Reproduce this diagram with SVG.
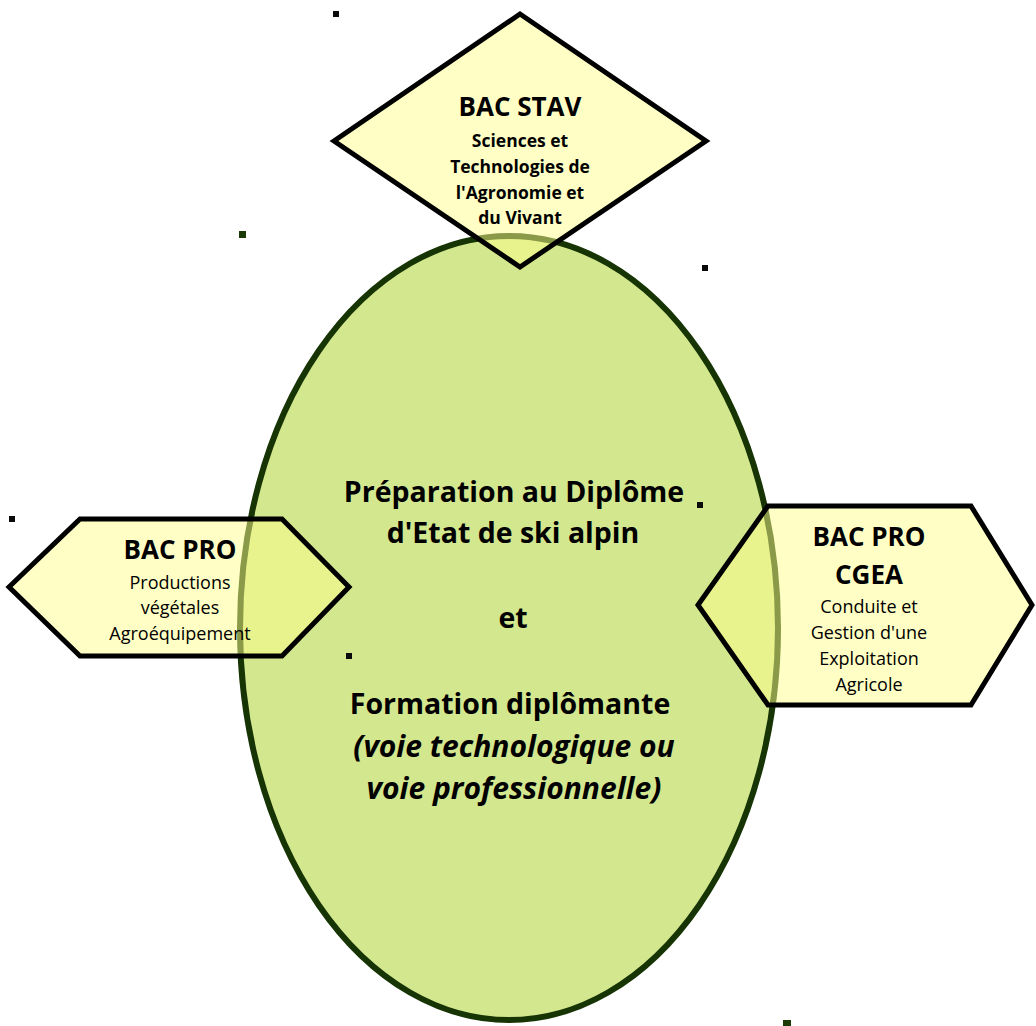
<svg xmlns="http://www.w3.org/2000/svg" width="1036" height="1026" viewBox="0 0 1036 1026">
<style>
.shape{fill:#ffff8c;fill-opacity:0.5;stroke:#000;stroke-width:5;stroke-linejoin:miter}
.t{font-family:"Open Sans","Noto Sans","Liberation Sans",sans-serif;fill:#000;text-anchor:middle}
.h{font-weight:bold;font-size:26px}
.s{font-weight:bold;font-size:17.5px}
.r{font-size:18px}
.c{font-weight:bold;font-size:28.5px}
.i{font-style:italic;font-size:30px}
.dot{fill:#0a0a0a}
</style>
<rect width="1036" height="1026" fill="#fff"/>
<g id="center">
<ellipse cx="509" cy="628" rx="269" ry="392" fill="#d3e78e" stroke="#163404" stroke-width="6"/>
<text class="t c" x="514" y="502">Préparation au Diplôme</text>
<text class="t c" x="513" y="543">d'Etat de ski alpin</text>
<text class="t c" x="513" y="628">et</text>
<text class="t c" x="510" y="714">Formation diplômante</text>
<text class="t c i" x="514" y="757">(voie technologique ou</text>
<text class="t c i" x="514" y="799">voie professionnelle)</text>
</g>
<g id="connectors"></g>
<g id="stav">
<polygon class="shape" points="520,14 706,141 520,267 334,141"/>
<text class="t h" x="520" y="116">BAC STAV</text>
<text class="t s" x="520" y="147">Sciences et</text>
<text class="t s" x="520" y="173">Technologies de</text>
<text class="t s" x="520" y="199">l'Agronomie et</text>
<text class="t s" x="520" y="224">du Vivant</text>
</g>
<g id="bacpro-pv">
<polygon class="shape" points="9,587 80,519 282,519 349,587 282,656 80,656"/>
<text class="t h" x="180" y="559">BAC PRO</text>
<text class="t r" x="180" y="589">Productions</text>
<text class="t r" x="180" y="614">végétales</text>
<text class="t r" x="180" y="640">Agroéquipement</text>
</g>
<g id="bacpro-cgea">
<polygon class="shape" points="698,605 768,506 971,506 1032,605 971,705 768,705"/>
<text class="t h" x="869" y="546">BAC PRO</text>
<text class="t h" x="869" y="584">CGEA</text>
<text class="t r" x="869" y="613">Conduite et</text>
<text class="t r" x="869" y="639">Gestion d'une</text>
<text class="t r" x="869" y="665">Exploitation</text>
<text class="t r" x="869" y="691">Agricole</text>
</g>
<g id="marks">
<rect class="dot" x="333" y="11" width="6" height="6"/>
<rect x="239" y="231" width="7" height="7" fill="#1b3a06"/>
<rect class="dot" x="702" y="265" width="6" height="6"/>
<rect class="dot" x="9" y="516" width="6" height="6"/>
<rect class="dot" x="697" y="502" width="6" height="6"/>
<rect class="dot" x="346" y="653" width="6" height="6"/>
<rect x="783" y="1020" width="8" height="6" fill="#1b3a06"/>
</g>
</svg>
